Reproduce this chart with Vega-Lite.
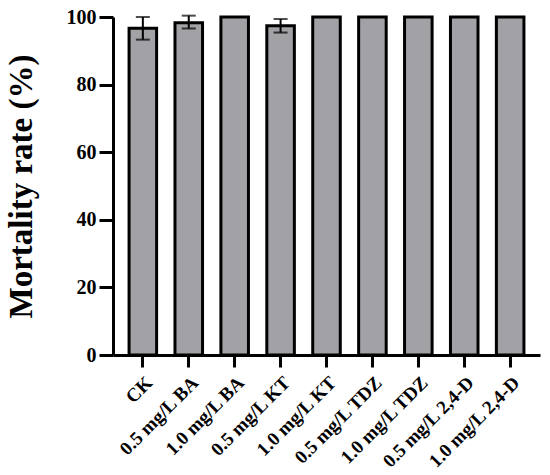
{
  "$schema": "https://vega.github.io/schema/vega-lite/v6.json",
  "autosize": "none",
  "width": 427,
  "height": 338,
  "padding": {"left": 113, "top": 17, "right": 10, "bottom": 120},
  "background": "white",
  "config": {
    "view": {"stroke": null},
    "font": "Liberation Serif"
  },
  "data": {
    "values": [
      {"group": "CK", "rate": 96.7, "lo": 93.3, "hi": 100.0},
      {"group": "0.5 mg/L BA", "rate": 98.3, "lo": 96.6, "hi": 100.4},
      {"group": "1.0 mg/L BA", "rate": 100, "lo": null, "hi": null},
      {"group": "0.5 mg/L KT", "rate": 97.4, "lo": 95.4, "hi": 99.4},
      {"group": "1.0 mg/L KT", "rate": 100, "lo": null, "hi": null},
      {"group": "0.5 mg/L TDZ", "rate": 100, "lo": null, "hi": null},
      {"group": "1.0 mg/L TDZ", "rate": 100, "lo": null, "hi": null},
      {"group": "0.5 mg/L 2,4-D", "rate": 100, "lo": null, "hi": null},
      {"group": "1.0 mg/L 2,4-D", "rate": 100, "lo": null, "hi": null}
    ]
  },
  "encoding": {
    "x": {
      "field": "group",
      "type": "nominal",
      "sort": null,
      "scale": {"paddingInner": 0.4, "paddingOuter": 0.35},
      "axis": {
        "title": null,
        "labelAngle": -45,
        "labelFont": "Liberation Serif",
        "labelFontWeight": "bold",
        "labelFontSize": 19,
        "labelColor": "black",
        "domainColor": "black",
        "domainWidth": 3,
        "tickColor": "black",
        "tickWidth": 3,
        "tickSize": 12,
        "labelPadding": 6
      }
    }
  },
  "layer": [
    {
      "mark": {"type": "bar", "fill": "#a1a1a6", "stroke": "black", "strokeWidth": 3},
      "encoding": {
        "y": {
          "field": "rate",
          "type": "quantitative",
          "scale": {"domain": [0, 100], "nice": false},
          "axis": {
            "title": "Mortality rate (%)",
            "titleFont": "Liberation Serif",
            "titleFontSize": 33,
            "titleFontWeight": "bold",
            "titleColor": "black",
            "titlePadding": 28,
            "values": [0, 20, 40, 60, 80, 100],
            "grid": false,
            "labelFont": "Liberation Serif",
            "labelFontWeight": "bold",
            "labelFontSize": 20,
            "labelColor": "black",
            "labelPadding": 3,
            "domainColor": "black",
            "domainWidth": 3,
            "tickColor": "black",
            "tickWidth": 3,
            "tickSize": 14
          }
        }
      }
    },
    {
      "transform": [{"filter": "datum.lo != null"}],
      "mark": {"type": "rule", "color": "black", "strokeWidth": 2},
      "encoding": {
        "y": {"field": "lo", "type": "quantitative"},
        "y2": {"field": "hi"}
      }
    },
    {
      "transform": [{"filter": "datum.lo != null"}],
      "mark": {"type": "tick", "color": "black", "thickness": 2, "size": 14},
      "encoding": {"y": {"field": "lo", "type": "quantitative"}}
    },
    {
      "transform": [{"filter": "datum.lo != null"}],
      "mark": {"type": "tick", "color": "black", "thickness": 2, "size": 14},
      "encoding": {"y": {"field": "hi", "type": "quantitative"}}
    }
  ]
}
